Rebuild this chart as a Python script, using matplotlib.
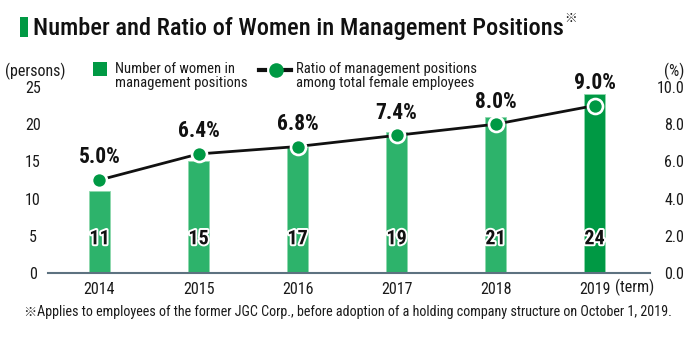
import matplotlib
matplotlib.use("Agg")
import matplotlib.pyplot as plt
import matplotlib.patheffects as pe
from matplotlib.patches import Rectangle
from matplotlib.lines import Line2D
import numpy as np

years = ["2014", "2015", "2016", "2017", "2018", "2019"]
counts = [11, 15, 17, 19, 21, 24]
ratios = [5.0, 6.4, 6.8, 7.4, 8.0, 9.0]
left_ticks = [0, 5, 10, 15, 20, 25]
right_ticks = [0.0, 2.0, 4.0, 6.0, 8.0, 10.0]

FONT = ["Roboto Condensed", "DejaVu Sans"]
plt.rcParams["font.family"] = FONT

light = "#2db36b"
dark = "#009944"
marker_green = "#009944"
txt = "#1a1a1a"

W, H = 700, 346
def fx(px): return px / W
def fy(py): return 1 - py / H

fig = plt.figure(figsize=(7, 3.46), dpi=100)
renderer = fig.canvas.get_renderer()

def fit_width(t, target_px):
    bb = t.get_window_extent(renderer=renderer)
    t.set_fontsize(t.get_fontsize() * target_px / bb.width)
    return t.get_window_extent(renderer=renderer)

ax = fig.add_axes([fx(48), fy(273), 602 / W, (273 - 87) / H])
ax2 = ax.twinx()

x = np.arange(len(years))
colors = [light] * (len(years) - 1) + [dark]
ax.bar(x, counts, width=0.205, color=colors, edgecolor="#8fd9ae", linewidth=0.6, zorder=2)
ax.set_ylim(0, 25)
ax.set_xlim(-0.52, 5.56)
ax.set_yticks(left_ticks)
ax.set_yticklabels([str(v) for v in left_ticks], fontsize=11.5, color=txt, ha="center")
ax.set_xticks(x)
ax.set_xticklabels(years, fontsize=11.5, color=txt)
ax.tick_params(axis="x", length=0, pad=6.5)
ax.tick_params(axis="y", length=0, pad=11)
for s in ["top", "right", "left"]:
    ax.spines[s].set_visible(False)
ax.spines["bottom"].set_color("#5d7280")
ax.spines["bottom"].set_linewidth(1.5)
ax.spines["bottom"].set_zorder(3)

for xi, c in zip(x, counts):
    ax.text(xi, 4.6, str(c), ha="center", va="center", fontsize=14.5, fontweight="bold",
            color="#111111", zorder=6,
            path_effects=[pe.withStroke(linewidth=2.8, foreground="white")])

ax2.plot(x, ratios, color="#111111", linewidth=2, zorder=3)
ax2.plot(x, ratios, linestyle="none", marker="o", markersize=10.8, markerfacecolor=marker_green,
         markeredgecolor="white", markeredgewidth=1.9, zorder=4)
ax2.set_ylim(0, 10)
ax2.set_yticks(right_ticks)
ax2.set_yticklabels([f"{v:.1f}" for v in right_ticks], fontsize=11.5, color=txt, ha="right")
ax2.tick_params(axis="y", length=0, pad=24.5)
for s in ["top", "right", "left", "bottom"]:
    ax2.spines[s].set_visible(False)
for xi, r in zip(x, ratios):
    ax2.annotate(f"{r:.1f}%", (xi, r), xytext=(0, 12), textcoords="offset points",
                 ha="center", va="baseline", fontsize=15.5, fontweight="bold", color="#111111")

# title
fig.patches.append(Rectangle((fx(20), fy(37)), 8 / W, 20 / H, transform=fig.transFigure,
                             facecolor=dark, edgecolor="none"))
title = fig.text(fx(33), fy(35), "Number and Ratio of Women in Management Positions", fontsize=18,
                 fontweight="medium", va="baseline", ha="left", color="#111111")
tb = fit_width(title, 565 - 35)
fig.text(tb.x1 / W, fy(19), "※", fontsize=9, va="center", ha="left", color="#111111",
         family=["Noto Sans CJK JP", "DejaVu Sans"])

# axis unit labels
fig.text(fx(35), fy(71), "(persons)", fontsize=11.5, ha="center", va="center", color=txt)
fig.text(fx(674), fy(71), "(%)", fontsize=11.5, ha="center", va="center", color=txt)
fig.text(fx(615), fy(287), "(term)", fontsize=11.5, ha="left", va="center", color=txt)

# legend
fig.patches.append(Rectangle((fx(93), fy(76)), 14 / W, 14 / H, transform=fig.transFigure,
                             facecolor=dark, edgecolor="none"))
fig.text(fx(115), fy(76), "Number of women in\nmanagement positions", fontsize=10.5,
         ha="left", va="center", color=txt, linespacing=1.05)
fig.lines.append(Line2D([fx(259), fx(265)], [fy(70), fy(70)], transform=fig.transFigure,
                        color="#111111", linewidth=3))
fig.lines.append(Line2D([fx(285), fx(291)], [fy(70), fy(70)], transform=fig.transFigure,
                        color="#111111", linewidth=3))
fig.lines.append(Line2D([fx(275.5)], [fy(70)], transform=fig.transFigure, marker="o",
                        markersize=10.5, markerfacecolor=marker_green, markeredgecolor="none",
                        linestyle="none"))
fig.text(fx(296), fy(76), "Ratio of management positions\namong total female employees", fontsize=10.5,
         ha="left", va="center", color=txt, linespacing=1.05)

# footnote
fig.text(fx(23), fy(312), "※", fontsize=9.5, ha="left", va="center", color=txt,
         family=["Noto Sans CJK JP", "DejaVu Sans"])
foot = fig.text(fx(37), fy(312),
                "Applies to employees of the former JGC Corp., before adoption of a holding company structure on October 1, 2019.",
                fontsize=11, ha="left", va="center", color=txt)
fit_width(foot, 676 - 37)

fig.savefig("out.png", dpi=100)
